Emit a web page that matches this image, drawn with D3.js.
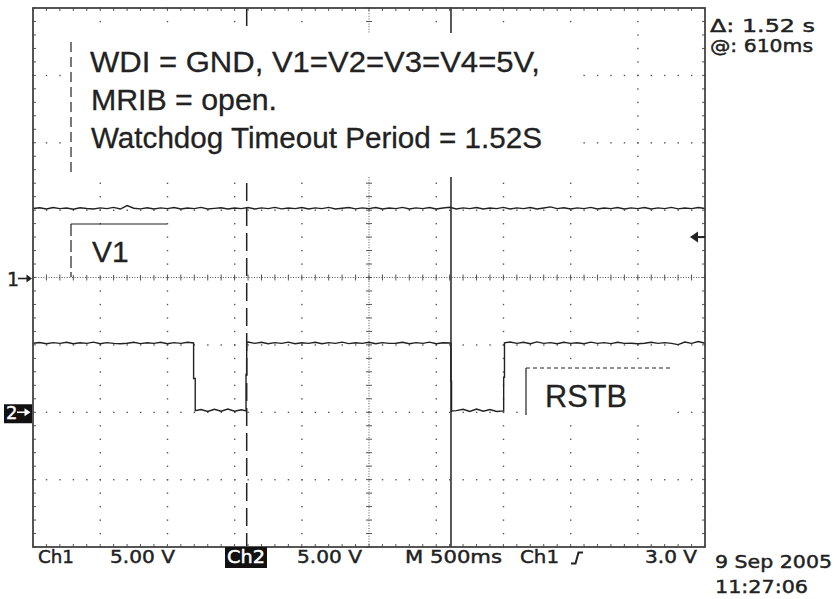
<!DOCTYPE html>
<html><head><meta charset="utf-8">
<script src="https://cdn.jsdelivr.net/npm/d3@7"></script>
<style>body{margin:0;background:#fff}svg{display:block}</style>
</head><body><svg id="c" width="836" height="599"></svg>
<script>
// ---- data ----
const timeDomain = [-2500, 2500];          // ms, 500 ms/div, trigger at centre
const divDomain = [-4, 4];                 // vertical divisions
const voltsPerDiv = 5;                     // both channels 5.00 V/div
const ch1Position = 0, ch2Position = -2;   // ground markers (divisions)
const samplePeriod = 50;                   // ms
const ch1Start = -2500;
const ch1Volts = [
 5.12,5.18,5.08,5.19,5.11,5.16,5.07,5.18,5.12,5.08,
 5.17,5.11,5.20,5.08,5.34,5.14,5.09,5.18,5.08,5.17,
 5.11,5.19,5.08,5.16,5.11,5.20,5.08,5.13,5.18,5.08,
 5.16,5.11,5.19,5.08,5.17,5.11,5.20,5.09,5.16,5.11,
 5.19,5.08,5.17,5.11,5.20,5.08,5.14,5.19,5.09,5.17,
 5.11,5.19,5.08,5.16,5.11,5.20,5.08,5.17,5.11,5.19,
 5.08,5.16,5.21,5.09,5.17,5.11,5.19,5.08,5.16,5.11,
 5.20,5.08,5.17,5.11,5.19,5.08,5.16,5.24,5.11,5.18,
 5.08,5.17,5.11,5.20,5.08,5.16,5.11,5.19,5.08,5.17,
 5.11,5.19,5.08,5.17,5.11,5.20,5.09,5.16,5.11,5.19,5.12];
// RSTB: noisy sampled segments and edge points
const ch2Segments = [
 {start:-2500, volts:[5.12,5.18,5.08,5.17,5.11,5.19,5.08,5.16,5.11,5.20,5.08,5.17,5.11,5.08,5.12,5.19,5.09,5.16,5.11,5.19,5.08,5.17,5.11,5.19]},
 {edge:[[-1305,5.14],[-1305,2.5],[-1293,2.5],[-1293,0.12]]},
 {start:-1250, volts:[0.20,0.06,0.22,0.08,0.24,0.08,0.18]},
 {edge:[[-915,0.10],[-915,2.8],[-910,2.8],[-910,5.18]]},
 {start:-900, volts:[5.21,5.11,5.19,5.08,5.17,5.11,5.20,5.08,5.16,5.11,5.19,5.08,5.17,5.11,5.20,5.09,5.16,5.11,5.19,5.08,5.17,5.11,5.12,5.19,5.08,5.17,5.11,5.20,5.08,5.16,5.14]},
 {edge:[[610,5.12],[610,2.3],[614,2.3],[614,0.10]]},
 {start:650, volts:[0.12,0.22,0.06,0.24,0.08,0.20,0.06]},
 {edge:[[1002,0.10],[1002,2.6],[1008,2.6],[1008,5.15]]},
 {start:1050, volts:[5.21,5.11,5.19,5.08,5.22,5.11,5.17,5.08,5.19,5.11,5.16,5.08,5.20,5.11,5.17,5.09,5.19,5.11,5.12,5.08,5.12,5.19,5.11,5.17,5.11,5.02,5.21,5.11,5.25,5.12]}
];
const cursorA = -910, cursorB = 610;       // ms
const triggerLevel = 3.0;                  // V on Ch1
const noteLines = ["WDI = GND, V1=V2=V3=V4=5V,", "MRIB = open.", "Watchdog Timeout Period = 1.52S"];
const labelV1 = "V1", labelRSTB = "RSTB";
const readout = ["\u0394: 1.52 s", "@: 610ms"];
const statusTexts = ["Ch1", "5.00 V", "Ch2", "5.00 V", "M 500ms", "Ch1", "3.0 V"];
const dateTexts = ["9 Sep 2005", "11:27:06"];

// ---- scales ----
const x = d3.scaleLinear().domain(timeDomain).range([33, 705]);
const y = d3.scaleLinear().domain(divDomain).range([547, 8]);
const svg = d3.select("#c");
const ink = "#222", gridInk = "#555";
const L = 33, R = 705, T = 8, B = 547;

// grid dots on major lines
const g = svg.append("g");
const majorT = d3.range(-2000, 2001, 500).filter(t => t !== 0);
const majorD = d3.range(-3, 4, 1).filter(d => d !== 0);
const fineD = d3.range(-4, 4.0001, 0.2);
const fineT = d3.range(-2500, 2500.1, 100);
const dots = [];
majorT.forEach(t => fineD.forEach(d => dots.push([x(t), y(d)])));
majorD.forEach(d => fineT.forEach(t => dots.push([x(t), y(d)])));
g.selectAll("rect.dot").data(dots).join("rect").attr("class","dot")
  .attr("x", d => d[0]-0.6).attr("y", d => d[1]-0.6).attr("width",1.4).attr("height",1.4).attr("fill", gridInk);

// centre lines
g.append("line").attr("x1",x(0)).attr("x2",x(0)).attr("y1",T).attr("y2",B)
  .attr("stroke",gridInk).attr("stroke-width",1).attr("stroke-dasharray","1,1.6");
g.append("line").attr("x1",L).attr("x2",R).attr("y1",y(0)).attr("y2",y(0))
  .attr("stroke",gridInk).attr("stroke-width",1).attr("stroke-dasharray","1,1.6");
g.selectAll("line.ct").data(fineD).join("line").attr("class","ct")
  .attr("x1",x(0)-3).attr("x2",x(0)+3).attr("y1",d=>y(d)).attr("y2",d=>y(d)).attr("stroke",gridInk).attr("stroke-width",1);
g.selectAll("line.ctt").data(fineT).join("line").attr("class","ctt")
  .attr("y1",y(0)-3).attr("y2",y(0)+3).attr("x1",d=>x(d)).attr("x2",d=>x(d)).attr("stroke",gridInk).attr("stroke-width",1);

// border ticks
g.selectAll("line.bt").data(fineT).join("line").attr("class","bt")
  .attr("x1",d=>x(d)).attr("x2",d=>x(d)).attr("y1",T).attr("y2",T+3).attr("stroke",gridInk);
g.selectAll("line.bb").data(fineT).join("line").attr("class","bb")
  .attr("x1",d=>x(d)).attr("x2",d=>x(d)).attr("y1",B-3).attr("y2",B).attr("stroke",gridInk);
g.selectAll("line.bl").data(fineD).join("line").attr("class","bl")
  .attr("y1",d=>y(d)).attr("y2",d=>y(d)).attr("x1",L).attr("x2",L+3).attr("stroke",gridInk);
g.selectAll("line.br").data(fineD).join("line").attr("class","br")
  .attr("y1",d=>y(d)).attr("y2",d=>y(d)).attr("x1",R-3).attr("x2",R).attr("stroke",gridInk);

// cursors
svg.append("line").attr("x1",x(cursorA)).attr("x2",x(cursorA)).attr("y1",T).attr("y2",B)
  .attr("stroke",ink).attr("stroke-width",1.5).attr("stroke-dasharray","18,7");
svg.append("line").attr("x1",x(cursorB)).attr("x2",x(cursorB)).attr("y1",T-1).attr("y2",B)
  .attr("stroke",ink).attr("stroke-width",1.5);

// traces
const ch1Pts = ch1Volts.map((v,i) => [ch1Start + i*samplePeriod, ch1Position + v/voltsPerDiv]);
const ch2Pts = [];
ch2Segments.forEach(s => {
  if (s.edge) s.edge.forEach(p => ch2Pts.push([p[0], ch2Position + p[1]/voltsPerDiv]));
  else s.volts.forEach((v,i) => ch2Pts.push([s.start + i*samplePeriod, ch2Position + v/voltsPerDiv]));
});
const line = d3.line().x(d => x(d[0])).y(d => y(d[1]));
svg.append("path").attr("d", line(ch1Pts)).attr("fill","none").attr("stroke",ink).attr("stroke-width",1.4);
svg.append("path").attr("d", line(ch2Pts)).attr("fill","none").attr("stroke",ink).attr("stroke-width",1.4);

// frame
svg.append("rect").attr("x",L).attr("y",T).attr("width",R-L).attr("height",B-T)
  .attr("fill","none").attr("stroke","#444").attr("stroke-width",1.8);

// annotation boxes
svg.append("rect").attr("x",72).attr("y",33).attr("width",506).attr("height",144).attr("fill","#fff");
svg.append("line").attr("x1",71).attr("x2",71).attr("y1",42).attr("y2",177).attr("stroke",ink).attr("stroke-width",1.2).attr("stroke-dasharray","10,5");
const noteFont = "'Liberation Sans', Arial, sans-serif";
const noteX = [90, 91, 91], noteY = [72, 110, 148], noteW = [450, 186, 451];
noteLines.forEach((t,i) => svg.append("text").attr("x",noteX[i]).attr("y",noteY[i]).text(t)
  .attr("font-family",noteFont).attr("font-size",30).attr("fill",ink)
  .attr("stroke",ink).attr("stroke-width",0.3)
  .attr("textLength",noteW[i]).attr("lengthAdjust","spacingAndGlyphs"));

svg.append("rect").attr("x",72).attr("y",225).attr("width",93).attr("height",50).attr("fill","#fff");
svg.append("line").attr("x1",71).attr("x2",71).attr("y1",224).attr("y2",277).attr("stroke",ink).attr("stroke-width",1.2).attr("stroke-dasharray","12,4");
svg.append("line").attr("x1",71).attr("x2",167).attr("y1",224).attr("y2",224).attr("stroke",ink).attr("stroke-width",1.2);
svg.append("text").attr("x",92).attr("y",262).text(labelV1).attr("font-family",noteFont).attr("font-size",30)
  .attr("fill",ink).attr("stroke",ink).attr("stroke-width",0.3);

svg.append("rect").attr("x",527).attr("y",369).attr("width",148).attr("height",50).attr("fill","#fff");
svg.append("line").attr("x1",526).attr("x2",526).attr("y1",368).attr("y2",415).attr("stroke",ink).attr("stroke-width",1.2);
svg.append("line").attr("x1",526).attr("x2",670).attr("y1",368).attr("y2",368).attr("stroke",ink).attr("stroke-width",1).attr("stroke-dasharray","4,3");
svg.append("text").attr("x",545).attr("y",407).text(labelRSTB).attr("font-family",noteFont).attr("font-size",31).attr("fill",ink)
  .attr("stroke",ink).attr("stroke-width",0.3)
  .attr("textLength",82).attr("lengthAdjust","spacingAndGlyphs");

// scope texts
const scopeFont = "'DejaVu Sans', sans-serif";
function stxt(t, xx, yy, w, fill) {
  const c = fill || ink;
  return svg.append("text").attr("x",xx).attr("y",yy).text(t).attr("font-family",scopeFont)
    .attr("font-size",18).attr("fill",c).attr("stroke",c).attr("stroke-width",0.45)
    .attr("textLength",w).attr("lengthAdjust","spacingAndGlyphs");
}
stxt(readout[0], 710, 32, 105);
stxt(readout[1], 710, 52, 103);

const sx = [38, 110, 227, 297, 405, 520, 645], sw = [36, 65, 38, 65, 97, 39, 52];
svg.append("rect").attr("x",225).attr("y",547).attr("width",42).attr("height",21).attr("fill","#111");
statusTexts.forEach((t,i) => stxt(t, sx[i], 563, sw[i], i===2 ? "#fff" : ink));
// trigger slope symbol
svg.append("path").attr("d","M571,563.5H575.5L578.5,552.5H583").attr("fill","none").attr("stroke",ink).attr("stroke-width",2);
stxt(dateTexts[0], 715, 568, 117);
stxt(dateTexts[1], 715, 593, 93);

// channel ground markers
const y1 = y(ch1Position), y2 = y(ch2Position);
svg.append("text").attr("x",7).attr("y",y1+8).text("1").attr("font-family",scopeFont).attr("font-size",19)
  .attr("fill",ink).attr("stroke",ink).attr("stroke-width",0.4);
svg.append("line").attr("x1",18).attr("x2",28).attr("y1",y1+1).attr("y2",y1+1).attr("stroke",ink).attr("stroke-width",1.6);
svg.append("path").attr("d",`M26.5,${y1-3}L32,${y1+1}L26.5,${y1+5}Z`).attr("fill",ink);
svg.append("rect").attr("x",4).attr("y",y2-8).attr("width",28).attr("height",19).attr("fill","#111");
svg.append("text").attr("x",6).attr("y",y2+7).text("2").attr("font-family",scopeFont).attr("font-size",18)
  .attr("fill","#fff").attr("stroke","#fff").attr("stroke-width",0.4);
svg.append("line").attr("x1",17).attr("x2",26).attr("y1",y2).attr("y2",y2).attr("stroke","#fff").attr("stroke-width",1.6);
svg.append("path").attr("d",`M24.5,${y2-4}L30.5,${y2}L24.5,${y2+4}Z`).attr("fill","#fff");

// trigger level marker (right)
const yt = y(ch1Position + triggerLevel/voltsPerDiv);
svg.append("path").attr("d",`M690,${yt}L698,${yt-5.5}L698,${yt+5.5}Z`).attr("fill",ink);
svg.append("line").attr("x1",697).attr("x2",705).attr("y1",yt).attr("y2",yt).attr("stroke",ink).attr("stroke-width",2);
</script></body></html>
